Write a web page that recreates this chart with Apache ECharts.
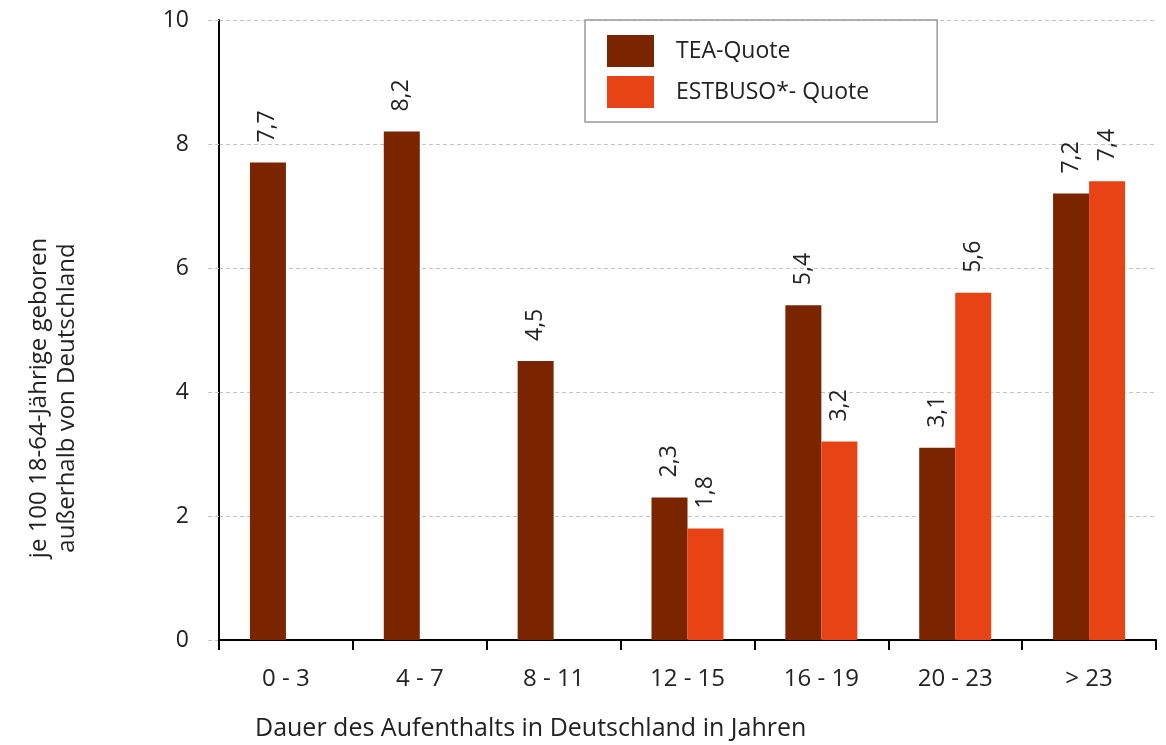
<!DOCTYPE html>
<html>
<head>
<meta charset="utf-8">
<script src="https://cdn.jsdelivr.net/npm/echarts@6/dist/echarts.min.js"></script>
<style>
  html, body { margin: 0; padding: 0; background: #fff; }
  #chart { width: 1166px; height: 745px; }
</style>
</head>
<body>
<div id="chart"></div>
<script>
var categories = ["0 - 3", "4 - 7", "8 - 11", "12 - 15", "16 - 19", "20 - 23", "> 23"];
var teaQuote = [7.7, 8.2, 4.5, 2.3, 5.4, 3.1, 7.2];
var estbusoQuote = [null, null, null, 1.8, 3.2, 5.6, 7.4];
var yTicks = [0, 2, 4, 6, 8, 10];

var font = "Open Sans";
var chart = echarts.init(document.getElementById("chart"));

function barLabel() {
  return {
    show: true,
    position: "top",
    distance: 20,
    rotate: 90,
    align: "left",
    verticalAlign: "middle",
    fontFamily: font,
    fontSize: 23,
    color: "#222",
    formatter: function (p) {
      return p.value.toFixed(1).replace(".", ",");
    }
  };
}

var option = {
  animation: false,
  textStyle: { fontFamily: font },
  grid: { left: 219, right: 10, top: 20, bottom: 105, containLabel: false },
  legend: {
    left: 585,
    top: 20,
    width: 352,
    orient: "vertical",
    padding: [15, 68, 14, 22],
    borderColor: "#999",
    borderWidth: 1.5,
    itemWidth: 47,
    itemHeight: 32,
    itemGap: 9,
    icon: "rect",
    textStyle: { fontFamily: font, fontSize: 23, color: "#222", padding: [0, 0, 0, 17] },
    data: ["TEA-Quote", "ESTBUSO*- Quote"]
  },
  xAxis: {
    type: "category",
    data: categories,
    axisLine: { lineStyle: { color: "#000", width: 2 } },
    axisTick: { show: true, length: 10, lineStyle: { color: "#000", width: 2 } },
    axisLabel: { margin: 27, fontFamily: font, fontSize: 24, color: "#222" }
  },
  yAxis: {
    type: "value",
    min: yTicks[0],
    max: yTicks[yTicks.length - 1],
    interval: 2,
    axisLine: { show: true, lineStyle: { color: "#000", width: 2 } },
    axisTick: { show: true, length: 11, lineStyle: { color: "#c4c4c4", type: [4, 3] } },
    axisLabel: { margin: 30, fontFamily: font, fontSize: 23, color: "#222" },
    splitLine: { show: true, lineStyle: { color: "#c4c4c4", type: [4, 3], width: 1 } }
  },
  graphic: [
    {
      type: "text",
      x: 53,
      y: 398,
      rotation: Math.PI / 2,
      style: {
        text: "je 100 18-64-Jährige geboren\naußerhalb von Deutschland",
        font: "24px 'Open Sans'",
        fill: "#222",
        align: "center",
        verticalAlign: "middle",
        lineHeight: 28
      }
    },
    {
      type: "text",
      left: 255,
      top: 716,
      style: {
        text: "Dauer des Aufenthalts in Deutschland in Jahren",
        font: "25px 'Open Sans'",
        fill: "#222"
      }
    }
  ],
  series: [
    {
      name: "TEA-Quote",
      type: "bar",
      data: teaQuote,
      barWidth: 36,
      barGap: "0%",
      itemStyle: { color: "#7a2500" },
      label: barLabel()
    },
    {
      name: "ESTBUSO*- Quote",
      type: "bar",
      data: estbusoQuote,
      barWidth: 36,
      barGap: "0%",
      itemStyle: { color: "#e84315" },
      label: barLabel()
    }
  ]
};
chart.setOption(option);
</script>
</body>
</html>
